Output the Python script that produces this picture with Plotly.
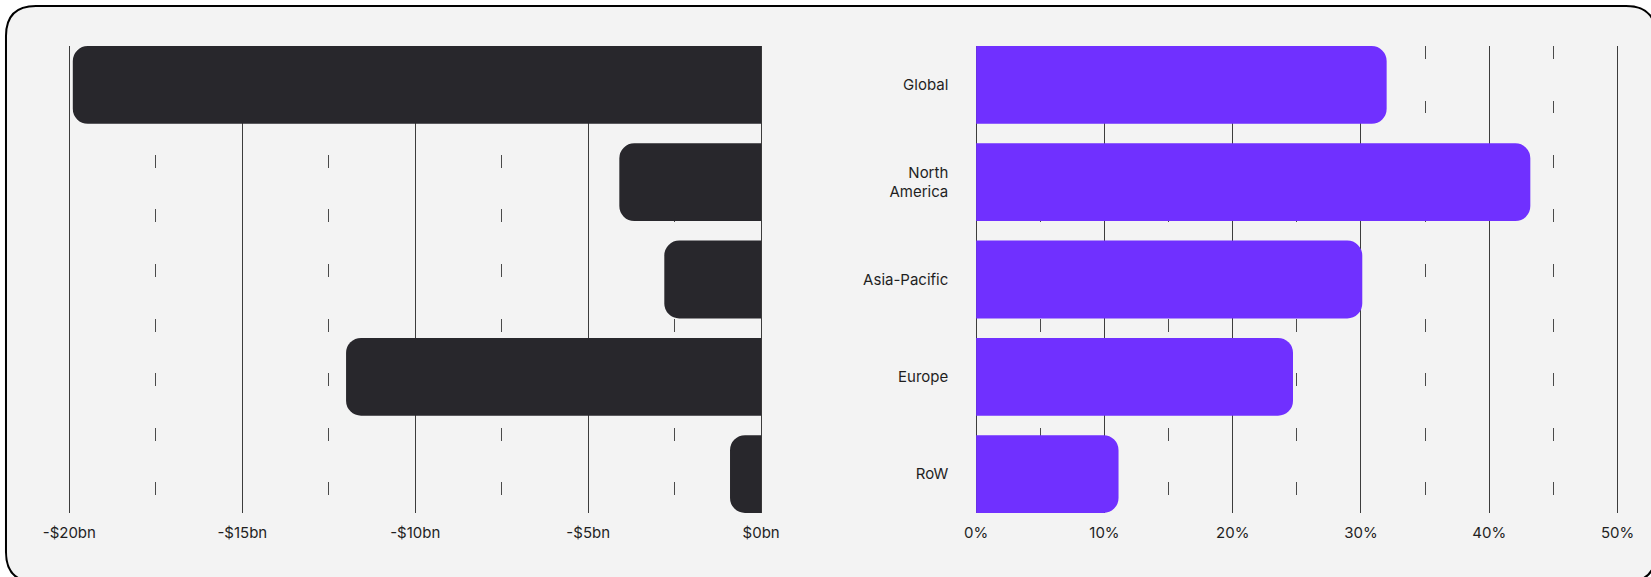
import plotly.graph_objects as go

# ---- data ----
regions = ["Global", "North America", "Asia-Pacific", "Europe", "RoW"]
region_labels = ["Global", "North<br>America", "Asia-Pacific", "Europe", "RoW"]
value_bn = [-19.9, -4.1, -2.8, -12.0, -0.9]
share_pct = [32.0, 43.2, 30.1, 24.7, 11.1]

bn_ticks = [-20, -15, -10, -5, 0]
bn_ticktext = ["-$20bn", "-$15bn", "-$10bn", "-$5bn", "$0bn"]
bn_minor = [-17.5, -12.5, -7.5, -2.5]
pct_ticks = [0, 10, 20, 30, 40, 50]
pct_ticktext = ["0%", "10%", "20%", "30%", "40%", "50%"]
pct_minor = [5, 15, 25, 35, 45]

W, H = 1651, 577
DARK = "#28272c"
PURPLE = "#7030ff"
BG = "#f3f3f3"
GRID = "#3c3c3c"
MINOR = "#4a4a4a"
FONT = dict(family="Inter, Roboto, sans-serif", size=15, color="#1f1f1f")

def px(x):
    return x / W

def py(y):
    return 1 - y / H

# pixel geometry
L20, L0 = 69.5, 763.0
R0, R50 = 978.5, 1621.5
left_unit = (L0 - L20) / 20.0
right_unit = (R50 - R0) / 50.0
left_range = [-21, 1]
right_range = [-1, 51]
ld0 = L20 - 1 * left_unit
ld1 = L0 + 1 * left_unit
rd0 = R0 - 1 * right_unit
rd1 = R50 + 1 * right_unit
ytop, ybot = 46, 513

fig = go.Figure()
fig.add_trace(go.Bar(
    x=value_bn, y=regions, orientation="h",
    marker=dict(color=DARK, line=dict(width=0)),
    xaxis="x", yaxis="y", showlegend=False, hoverinfo="skip",
))
fig.add_trace(go.Bar(
    x=share_pct, y=regions, orientation="h",
    marker=dict(color=PURPLE, line=dict(width=0)),
    xaxis="x2", yaxis="y2", showlegend=False, hoverinfo="skip",
))

griddash = "13px,41.5px"

fig.update_layout(
    width=W, height=H,
    margin=dict(l=0, r=0, t=0, b=0),
    paper_bgcolor="white",
    plot_bgcolor="rgba(0,0,0,0)",
    font=FONT,
    bargap=0.2,
    barcornerradius=15,
    xaxis=dict(
        domain=[px(ld0), px(ld1)], range=left_range,
        tickmode="array", tickvals=bn_ticks, ticktext=bn_ticktext,
        showgrid=True, gridcolor=GRID, gridwidth=1,
        zeroline=False, showline=False, ticks="",
        ticklabelstandoff=9,
        minor=dict(tickmode="array", tickvals=bn_minor, showgrid=True,
                   gridcolor=MINOR, gridwidth=1, griddash=griddash, ticks=""),
        anchor="y", fixedrange=True,
    ),
    yaxis=dict(
        domain=[py(ybot), py(ytop)],
        categoryorder="array", categoryarray=regions,
        range=[4.4, -0.4],
        showticklabels=False, showgrid=False, zeroline=False, showline=False,
        ticks="", anchor="x", fixedrange=True,
    ),
    xaxis2=dict(
        domain=[px(rd0), px(rd1)], range=right_range,
        tickmode="array", tickvals=pct_ticks, ticktext=pct_ticktext,
        showgrid=True, gridcolor=GRID, gridwidth=1,
        zeroline=False, showline=False, ticks="",
        ticklabelstandoff=9,
        minor=dict(tickmode="array", tickvals=pct_minor, showgrid=True,
                   gridcolor=MINOR, gridwidth=1, griddash=griddash, ticks=""),
        anchor="y2", fixedrange=True,
    ),
    yaxis2=dict(
        domain=[py(ybot), py(ytop)],
        categoryorder="array", categoryarray=regions,
        tickmode="array", tickvals=regions, ticktext=region_labels,
        range=[4.4, -0.4],
        showgrid=False, zeroline=False, showline=False, ticks="",
        ticklabelstandoff=14,
        anchor="x2", fixedrange=True,
    ),
)

# rounded container
x0, y0, x1, y1, r = 6, 6, 1660, 582, 30
path = (
    f"M {px(x0 + r)},{py(y0)} L {px(x1 - r)},{py(y0)} "
    f"Q {px(x1)},{py(y0)} {px(x1)},{py(y0 + r)} "
    f"L {px(x1)},{py(y1 - r)} Q {px(x1)},{py(y1)} {px(x1 - r)},{py(y1)} "
    f"L {px(x0 + r)},{py(y1)} Q {px(x0)},{py(y1)} {px(x0)},{py(y1 - r)} "
    f"L {px(x0)},{py(y0 + r)} Q {px(x0)},{py(y0)} {px(x0 + r)},{py(y0)} Z"
)
fig.add_shape(type="path", path=path, xref="paper", yref="paper",
              fillcolor=BG, line=dict(color="black", width=2), layer="below")

fig.write_html(
    "out.html",
    config={"displayModeBar": False, "staticPlot": True},
    post_script="document.body.style.margin='0';document.body.style.overflow='hidden';",
)
